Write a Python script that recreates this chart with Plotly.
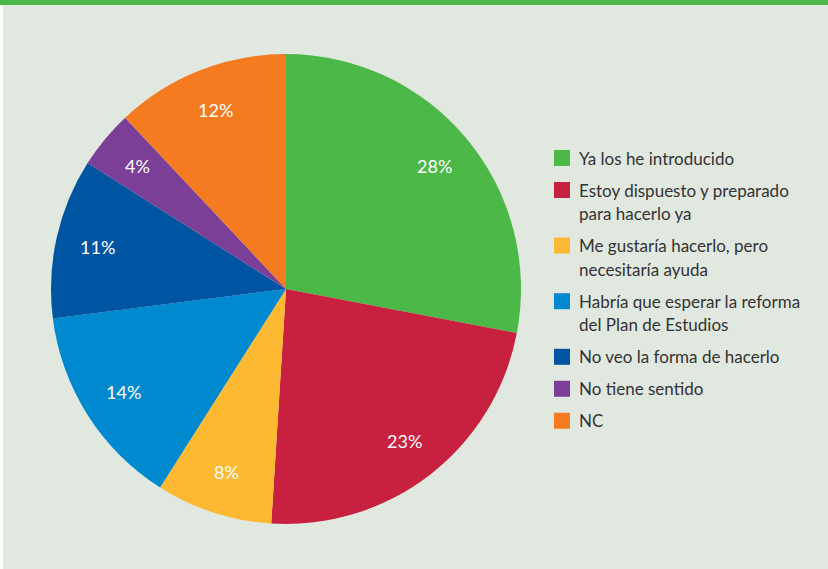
import math
import plotly.graph_objects as go

W, H = 828, 569

categories = [
    "Ya los he introducido",
    "Estoy dispuesto y preparado<br>para hacerlo ya",
    "Me gustaría hacerlo, pero<br>necesitaría ayuda",
    "Habría que esperar la reforma<br>del Plan de Estudios",
    "No veo la forma de hacerlo",
    "No tiene sentido",
    "NC",
]
values = [28, 23, 8, 14, 11, 4, 12]
colors = ["#4cb848", "#c8203f", "#fdb931", "#0089cf", "#0055a2", "#7b3f98", "#f47b20"]

BG = "#e1e8e0"
FONT = "Lato"

# pie geometry (pixels)
cx, cy, r = 286, 289, 235

fig = go.Figure()
fig.add_trace(go.Pie(
    labels=[c.replace("<br>", " ") for c in categories],
    values=values,
    marker=dict(colors=colors, line=dict(width=0)),
    sort=False,
    direction="clockwise",
    rotation=0,
    textinfo="none",
    showlegend=False,
    hoverinfo="label+percent",
    domain=dict(x=[(cx - r) / W, (cx + r) / W], y=[(H - cy - r) / H, (H - cy + r) / H]),
))

shapes = [
    dict(type="rect", xref="paper", yref="paper", x0=0, x1=1, y0=1 - 5 / H, y1=1.0,
         fillcolor="#4bb749", line=dict(width=0), layer="above"),
    dict(type="rect", xref="paper", yref="paper", x0=0, x1=3 / W, y0=0, y1=1 - 5 / H,
         fillcolor="#ffffff", line=dict(width=0), layer="above"),
]
annotations = []

# slice percentage labels placed at the slice mid-angle
total = sum(values)
cum = 0.0
for v in values:
    mid = (cum + v / 2) / total * 2 * math.pi
    cum += v
    px = cx + 0.82 * r * math.sin(mid)
    py = cy - 0.82 * r * math.cos(mid)
    annotations.append(dict(xref="paper", yref="paper", x=px / W, y=(H - py) / H,
                            xanchor="center", yanchor="middle", showarrow=False,
                            text=f"{round(v / total * 100)}%",
                            font=dict(family=FONT, size=18, color="white")))

# custom legend
y_line = 158.0
line_h = 23.6
gap = 32.0
for name, col in zip(categories, colors):
    lines = name.split("<br>")
    shapes.append(dict(type="rect", xref="paper", yref="paper",
                       x0=554 / W, x1=570 / W,
                       y0=(H - (y_line + 8)) / H, y1=(H - (y_line - 8)) / H,
                       fillcolor=col, line=dict(width=0)))
    for k, ln in enumerate(lines):
        yy = y_line + k * line_h
        annotations.append(dict(xref="paper", yref="paper", x=577 / W, y=(H - yy) / H,
                                xanchor="left", yanchor="middle", showarrow=False,
                                text=ln, font=dict(family=FONT, size=17, color="#333333")))
    y_line += gap + line_h * (len(lines) - 1)

fig.update_layout(
    width=W, height=H,
    margin=dict(l=0, r=0, t=0, b=0),
    paper_bgcolor=BG, plot_bgcolor=BG,
    shapes=shapes, annotations=annotations,
    showlegend=False,
)

fig.write_html("out.html", config={"displayModeBar": False})
